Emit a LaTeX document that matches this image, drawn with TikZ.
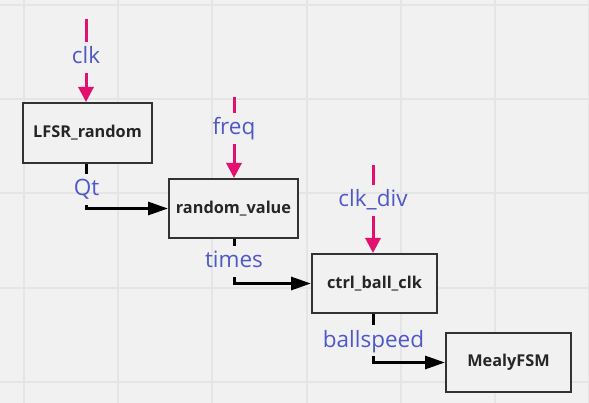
\documentclass[tikz,border=0pt]{standalone}
\usepackage{fontspec}
\setsansfont{Open Sans}
\usepackage{tikz}
\usetikzlibrary{arrows.meta, positioning}
\definecolor{bg}{RGB}{241,241,241}
\definecolor{gridc}{RGB}{229,229,229}
\definecolor{sigpink}{RGB}{226,16,110}
\definecolor{sigblue}{RGB}{78,88,200}
\definecolor{boxline}{RGB}{50,50,50}
\tikzset{
    block/.style={draw=boxline, line width=2pt, fill=bg, minimum height=59pt,
        font=\sffamily\bfseries\fontsize{16.3}{19}\selectfont, text=black!85},
    sig/.style={font=\sffamily\fontsize{22.5}{26}\selectfont, text=sigblue, anchor=base,
        text height=16.5pt, text depth=4pt, inner xsep=2pt, inner ysep=5pt},
    sigline/.style={draw=sigpink, line width=3pt},
    sigarrow/.style={sigline, -{Triangle[length=15pt,width=15pt]}},
    dataline/.style={draw=black, line width=3pt},
    dataarrow/.style={dataline, -{Triangle[length=20pt,width=13pt]}}
}
\begin{document}
\begin{tikzpicture}[x=1pt, y=-1pt]
                \fill[bg] (0,0) rectangle (589,403);
                \useasboundingbox (0,0) rectangle (589,403);
                % grid
                \foreach \gx in {24,118.2,212.4,306.6,400.8,495,589.2}
                    \draw[gridc, line width=2pt] (\gx,0) -- (\gx,403);
                \foreach \gy in {5,99.2,193.4,287.6,381.8}
                    \draw[gridc, line width=2pt] (0,\gy) -- (589,\gy);
                % blocks
                \node[block, minimum width=129pt, minimum height=60pt] (lfsr) at (87.5,133) {LFSR\_random};
                \node[block, minimum width=129pt] (rv) at (233.5,208.5) {random\_value};
                \node[block, minimum width=125pt] (ctrl) at (374.5,283.5) {ctrl\_ball\_clk};
                \node[block, minimum width=125pt] (fsm) at (508.5,362.5) {MealyFSM};
                % inputs
                \coordinate (clktop) at (86,19);
                \node[sig] (clk) at (86,64) {clk};
                \draw[sigline] (clktop) -- (clk);
                \draw[sigarrow] (clk) -- (clk |- lfsr.north);
                \coordinate (freqtop) at (234,97);
                \node[sig] (freq) at (234,135) {freq};
                \draw[sigline] (freqtop) -- (freq);
                \draw[sigarrow] (freq) -- (freq |- rv.north);
                \coordinate (divtop) at (373,165);
                \node[sig] (clkdiv) at (373,207) {clk\_div};
                \draw[sigline] (divtop) -- (clkdiv);
                \draw[sigarrow] (clkdiv) -- (clkdiv |- ctrl.north);
                % outputs
                \node[sig] (qt) at (86.5,196) {Qt};
                \draw[dataline] (qt |- lfsr.south) -- (qt);
                \draw[dataarrow] (qt) |- (rv);
                \node[sig] (times) at (234,268) {times};
                \draw[dataline] (times |- rv.south) -- (times);
                \draw[dataarrow] (times) |- (ctrl);
                \node[sig] (speed) at (373.5,347) {ballspeed};
                \draw[dataline] (speed |- ctrl.south) -- (speed);
                \draw[dataarrow] (speed) |- (fsm);
            \end{tikzpicture}
\end{document}
